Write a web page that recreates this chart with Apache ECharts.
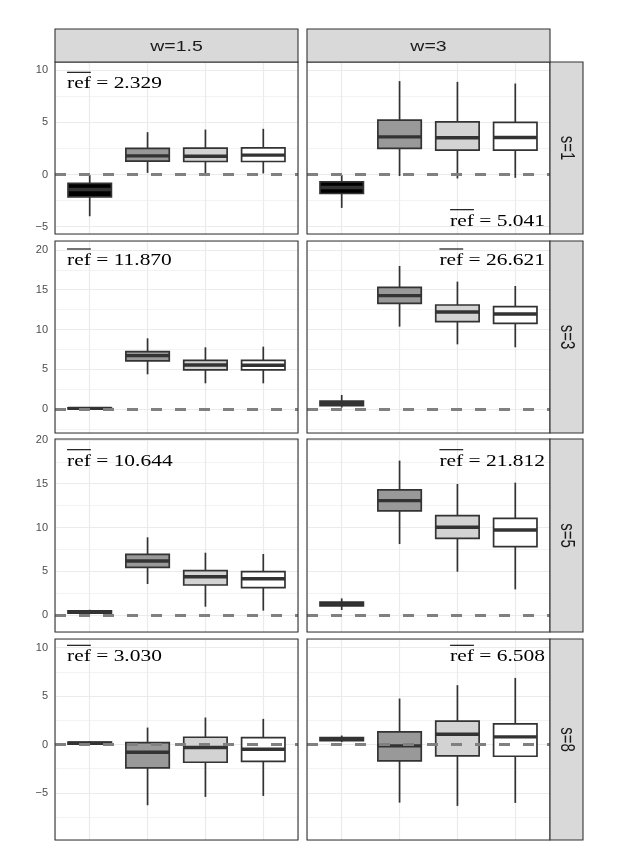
<!DOCTYPE html>
<html><head><meta charset="utf-8">
<script src="https://cdn.jsdelivr.net/npm/echarts@6/dist/echarts.min.js"></script>
<style>html,body{margin:0;padding:0;background:#fff}#c{width:623px;height:867px}</style>
</head><body><div id="c"></div>
<script>
// ---------- data ----------
const colLabels = ['w=1.5', 'w=3'];
const rowLabels = ['s=1', 's=3', 's=5', 's=8'];
const boxPositions = [1, 2, 3, 4];
// each box: [lower whisker, Q1, median, Q3, upper whisker]
const s1_w15 = [[-4.0,-2.14,-1.44,-0.86,-0.05],[0.15,1.27,1.78,2.49,4.05],[0.1,1.24,1.75,2.52,4.3],[0.1,1.24,1.85,2.55,4.37]];
const s1_w3  = [[-3.2,-1.82,-1.25,-0.71,-0.05],[-0.15,2.49,3.6,5.2,8.94],[-0.38,2.33,3.51,5.04,8.87],[-0.32,2.33,3.54,4.98,8.71]];
const s3_w15 = [[-0.1,0.0,0.08,0.15,0.25],[4.36,6.04,6.71,7.21,8.89],[3.23,4.91,5.53,6.12,7.76],[3.23,4.91,5.5,6.12,7.84]];
const s3_w3  = [[0.17,0.42,0.71,1.0,1.76],[10.36,13.29,14.26,15.3,17.99],[8.13,10.98,12.2,13.08,16.02],[7.76,10.78,11.95,12.87,15.47]];
const s5_w15 = [[0.1,0.2,0.33,0.47,0.6],[3.54,5.45,6.17,6.93,8.88],[0.95,3.43,4.38,5.07,7.12],[0.5,3.12,4.15,4.95,6.97]];
const s5_w3  = [[0.57,1.03,1.26,1.49,1.9],[8.11,11.89,13.07,14.29,17.64],[4.95,8.76,10.02,11.35,14.97],[2.93,7.81,9.71,11.05,15.12]];
const s8_w15 = [[-0.02,0.05,0.15,0.25,0.33],[-6.27,-2.41,-0.8,0.2,1.75],[-5.41,-1.83,-0.31,0.75,2.79],[-5.31,-1.73,-0.49,0.72,2.65]];
const s8_w3  = [[0.24,0.41,0.58,0.72,0.93],[-6.0,-1.69,-0.14,1.3,4.75],[-6.34,-1.18,1.06,2.41,6.13],[-6.03,-1.21,0.79,2.13,6.88]];
const refValues = [['2.329','5.041'],['11.870','26.621'],['10.644','21.812'],['3.030','6.508']];
const yTicks = [[-5,0,5,10],[0,5,10,15,20],[0,5,10,15,20],[-5,0,5,10]];
const yMin = [-5.7, -3.02, -1.94, -9.86];
const yMax = [10.77, 21.13, 20.11, 10.9];
const refLine = 0;

const panels = [[s1_w15, s1_w3],[s3_w15, s3_w3],[s5_w15, s5_w3],[s8_w15, s8_w3]];

// ---------- layout / style ----------
const COL_X = [55, 307], COL_W = 243;
const ROW_Y = [62, 241, 439, 639], ROW_H = [172, 192, 193, 201];
const STRIP_TOP = 29, STRIP_RIGHT_W = 33;
const FILLS = ['#000000', '#999999', '#d3d3d3', '#ffffff'];
const STROKE = '#333333';
const GRID_C = '#ebebeb';
const BOX_W = 0.75;
const SX = 1.3;

const chart = echarts.init(document.getElementById('c'), null, {renderer: 'canvas'});

function renderBox(params, api) {
  const x = api.value(0);
  const lo = api.coord([x, api.value(1)]);
  const q1 = api.coord([x, api.value(2)]);
  const md = api.coord([x, api.value(3)]);
  const q3 = api.coord([x, api.value(4)]);
  const hi = api.coord([x, api.value(5)]);
  const hw = api.size([BOX_W, 0])[0] / 2;
  const fill = FILLS[api.value(6)];
  const cx = md[0];
  const lw = {stroke: STROKE, lineWidth: 1.7};
  return {type: 'group', children: [
    {type: 'line', shape: {x1: cx, y1: hi[1], x2: cx, y2: q3[1]}, style: lw},
    {type: 'line', shape: {x1: cx, y1: q1[1], x2: cx, y2: lo[1]}, style: lw},
    {type: 'rect', shape: {x: cx - hw, y: q3[1], width: 2 * hw, height: q1[1] - q3[1]}, style: {fill: fill, stroke: STROKE, lineWidth: 1.7}},
    {type: 'line', shape: {x1: cx - hw, y1: md[1], x2: cx + hw, y2: md[1]}, style: {stroke: STROKE, lineWidth: 3.4}}
  ]};
}

const grids = [], xAxes = [], yAxes = [], series = [];
const mctx = document.createElement('canvas').getContext('2d');
const graphics = [];

for (let r = 0; r < 4; r++) {
  for (let c = 0; c < 2; c++) {
    const k = r * 2 + c;
    grids.push({left: COL_X[c], top: ROW_Y[r], width: COL_W, height: ROW_H[r], show: false});
    xAxes.push({gridIndex: k, type: 'value', min: 0.4, max: 4.6, minInterval: 1, maxInterval: 1,
      axisLine: {show: false}, axisTick: {show: false}, axisLabel: {show: false},
      splitLine: {show: true, lineStyle: {color: GRID_C, width: 1.2}}});
    const ticks = yTicks[r];
    yAxes.push({gridIndex: k, type: 'value', min: yMin[r], max: yMax[r], minInterval: 5, maxInterval: 5,
      axisLine: {show: false}, axisTick: {show: false},
      axisLabel: {show: c === 0, color: '#4d4d4d', fontSize: 11, fontFamily: '"Liberation Sans", Arial, sans-serif', margin: 7,
        formatter: v => ticks.indexOf(Math.round(v * 1000) / 1000) >= 0 ? String(v).replace('-', '\u2212') : ''},
      splitLine: {show: true, lineStyle: {color: GRID_C, width: 1.2}},
      minorTick: {show: false, splitNumber: 2},
      minorSplitLine: {show: true, lineStyle: {color: GRID_C, width: 0.6}}});
    const data = panels[r][c].map((b, i) => [boxPositions[i], b[0], b[1], b[2], b[3], b[4], i]);
    series.push({type: 'custom', xAxisIndex: k, yAxisIndex: k, data: data, renderItem: renderBox,
      encode: {x: 0, y: [1, 2, 3, 4, 5]}, silent: true, z: 2,
      markLine: {silent: true, symbol: ['none', 'none'], label: {show: false}, z: 5,
        lineStyle: {color: '#808080', width: 3, type: [11, 13]},
        emphasis: {disabled: true},
        data: [{yAxis: refLine}]}});

    // panel border
    graphics.push({type: 'rect', z: 100, silent: true,
      shape: {x: COL_X[c], y: ROW_Y[r], width: COL_W, height: ROW_H[r]},
      style: {fill: null, stroke: STROKE, lineWidth: 1.1}});

    // ref annotation
    const font = '16.5px "Liberation Serif"';
    mctx.font = font;
    const txt = 'ref = ' + refValues[r][c];
    const wFull = mctx.measureText(txt).width;
    const wRef = mctx.measureText('ref').width;
    let ax, by, right;
    const topBase = [27.3, 25, 27.7, 23.3][r];
    if (c === 0) { ax = 67; by = ROW_Y[r] + topBase; right = false; }
    else if (r === 0) { ax = 545; by = ROW_Y[r] + ROW_H[r] - 7.3; right = true; }
    else { ax = 545; by = ROW_Y[r] + topBase; right = true; }
    const lx = right ? -wFull : 0;
    graphics.push({type: 'group', x: ax, y: by, scaleX: SX, z: 110, silent: true, children: [
      {type: 'text', x: lx, y: -5.5, z: 110, style: {text: txt, font: font, fill: '#000', align: 'left', verticalAlign: 'middle'}},
      {type: 'line', z: 110, shape: {x1: lx, y1: -17, x2: lx + wRef, y2: -17}, style: {stroke: '#000', lineWidth: 1.1}}
    ]});
  }
  // right strip
  graphics.push({type: 'rect', z: 100, silent: true,
    shape: {x: COL_X[1] + COL_W, y: ROW_Y[r], width: STRIP_RIGHT_W, height: ROW_H[r]},
    style: {fill: '#d9d9d9', stroke: STROKE, lineWidth: 1.1}});
  graphics.push({type: 'text', z: 110, silent: true, x: COL_X[1] + COL_W + STRIP_RIGHT_W / 2, y: ROW_Y[r] + ROW_H[r] / 2,
    rotation: -Math.PI / 2, scaleY: SX,
    style: {text: rowLabels[r], font: '15px "Liberation Sans"', fill: '#1a1a1a', align: 'center', verticalAlign: 'middle'}});
}
for (let c = 0; c < 2; c++) {
  graphics.push({type: 'rect', z: 100, silent: true,
    shape: {x: COL_X[c], y: STRIP_TOP, width: COL_W, height: ROW_Y[0] - STRIP_TOP},
    style: {fill: '#d9d9d9', stroke: STROKE, lineWidth: 1.1}});
  graphics.push({type: 'text', z: 110, silent: true, x: COL_X[c] + COL_W / 2, y: (STRIP_TOP + ROW_Y[0]) / 2 + 1,
    scaleX: SX,
    style: {text: colLabels[c], font: '15px "Liberation Sans"', fill: '#1a1a1a', align: 'center', verticalAlign: 'middle'}});
}

chart.setOption({
  animation: false,
  backgroundColor: '#ffffff',
  grid: grids, xAxis: xAxes, yAxis: yAxes, series: series,
  graphic: {elements: graphics}
});
</script></body></html>
